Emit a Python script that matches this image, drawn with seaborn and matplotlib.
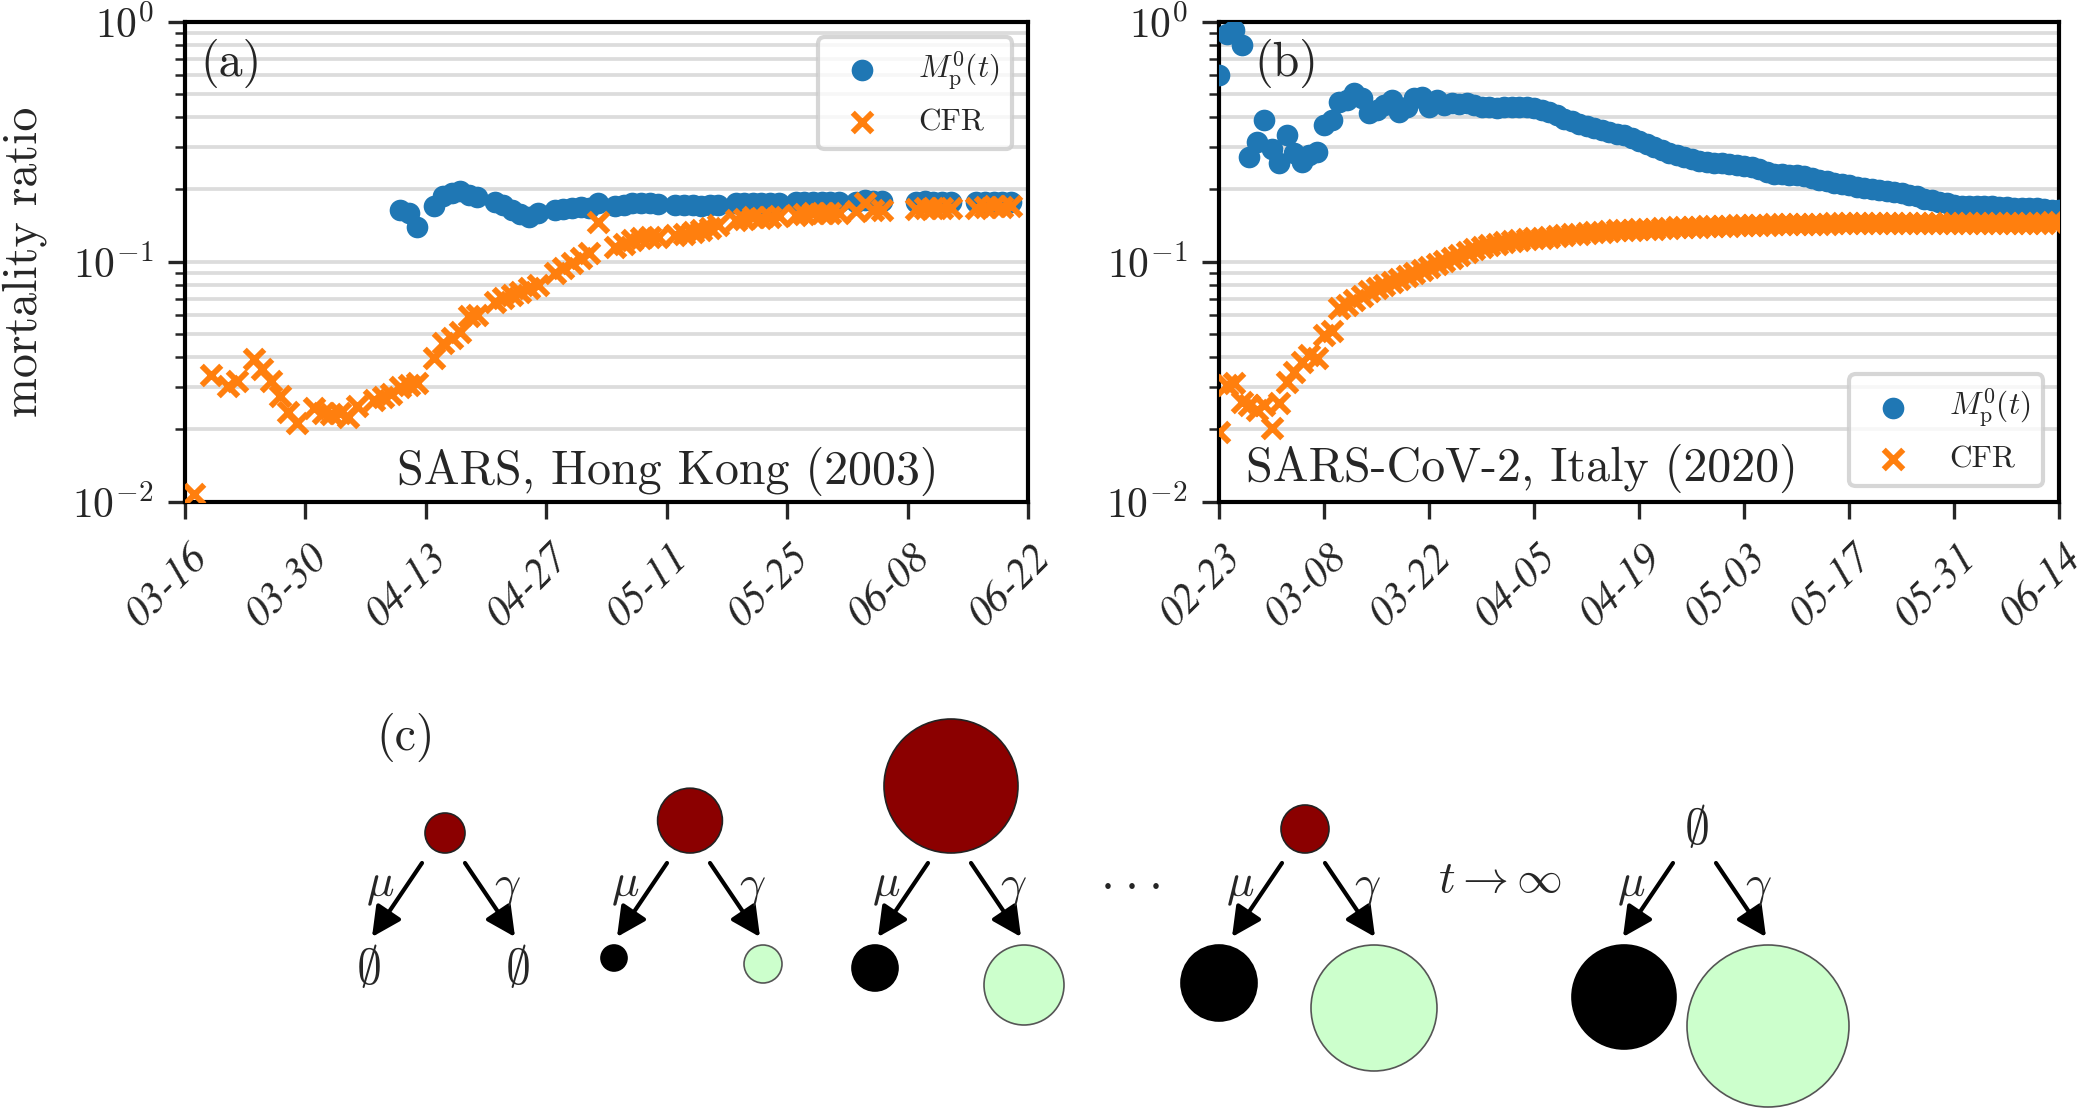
import numpy as np
import pandas as pd
import matplotlib
matplotlib.use("Agg")
import matplotlib.pyplot as plt
import matplotlib.transforms as mtransforms
import seaborn as sns
from matplotlib.patches import Circle, FancyArrowPatch
from matplotlib.ticker import LogLocator, NullFormatter

# ---------------- data ----------------
sars_start = "2003-03-16"
sars_end = "2003-06-22"
sars_ticks = ["03-16", "03-30", "04-13", "04-27", "05-11", "05-25", "06-08", "06-22"]

sars_cfr_day = [1, 3, 5, 6, 8, 9, 10, 11, 12, 13, 15, 16, 17, 18, 19, 20, 22, 23, 24, 25,
                26, 27, 29, 30, 31, 32, 33, 34, 36, 37, 38, 39, 40, 41, 43, 44, 45, 46, 47, 48,
                50, 51, 52, 53, 54, 55, 57, 58, 59, 60, 61, 62, 64, 65, 66, 67, 68, 69, 71, 72,
                73, 74, 75, 76, 78, 79, 80, 81, 85, 86, 87, 88, 89, 92, 93, 94, 95, 96]
sars_cfr = [0.0108, 0.0337, 0.0303, 0.0319, 0.0392, 0.0356, 0.0318, 0.0276, 0.0237, 0.0213,
            0.0245, 0.0235, 0.0231, 0.0235, 0.0226, 0.0251, 0.0265, 0.0274, 0.0280, 0.0300,
            0.0306, 0.0313, 0.0396, 0.0457, 0.0479, 0.0508, 0.0594, 0.0601, 0.0682, 0.0704,
            0.0727, 0.0751, 0.0775, 0.0800, 0.0893, 0.0938, 0.0985, 0.1035, 0.1090, 0.147,
            0.1155, 0.119, 0.123, 0.125, 0.127, 0.127, 0.129, 0.131, 0.133, 0.1355,
            0.138, 0.1425, 0.149, 0.151, 0.153, 0.152, 0.154, 0.155, 0.157, 0.158,
            0.159, 0.159, 0.160, 0.160, 0.163, 0.175, 0.164, 0.165, 0.166, 0.167,
            0.167, 0.168, 0.167, 0.168, 0.169, 0.170, 0.169, 0.170]

sars_mp_day = [25, 26, 27, 29, 30, 31, 32, 33, 34, 36, 37, 38, 39, 40, 41, 43, 44, 45, 46, 47,
               48, 50, 51, 52, 53, 54, 55, 57, 58, 59, 60, 61, 62, 64, 65, 66, 67, 68, 69, 71,
               72, 73, 74, 75, 76, 78, 79, 80, 81, 85, 86, 87, 88, 89, 92, 93, 94, 95, 96]
sars_mp = [0.165, 0.160, 0.139, 0.171, 0.187, 0.194, 0.198, 0.190, 0.186, 0.178,
           0.172, 0.165, 0.158, 0.154, 0.160, 0.164, 0.166, 0.167, 0.169, 0.168,
           0.175, 0.170, 0.173, 0.175, 0.175, 0.175, 0.174, 0.172, 0.172, 0.172,
           0.171, 0.172, 0.173, 0.176, 0.175, 0.175, 0.175, 0.176, 0.175, 0.177,
           0.178, 0.177, 0.178, 0.178, 0.178, 0.178, 0.180, 0.179, 0.179, 0.178,
           0.179, 0.178, 0.178, 0.178, 0.177, 0.178, 0.178, 0.177, 0.177]

italy_start = "2020-02-23"
italy_end = "2020-06-14"
italy_ticks = ["02-23", "03-08", "03-22", "04-05", "04-19", "05-03", "05-17", "05-31", "06-14"]

italy_mp = [0.60, 0.89, 0.92, 0.80, 0.274, 0.316, 0.389, 0.296, 0.257, 0.337,
            0.283, 0.261, 0.278, 0.287, 0.371, 0.389, 0.464, 0.470, 0.503, 0.479,
            0.415, 0.430, 0.450, 0.472, 0.422, 0.440, 0.479, 0.487, 0.440, 0.472,
            0.450, 0.457, 0.455, 0.460, 0.450, 0.442, 0.440, 0.437, 0.440, 0.443,
            0.442, 0.440, 0.436, 0.430, 0.420, 0.408, 0.395, 0.385, 0.376, 0.368,
            0.360, 0.353, 0.347, 0.341, 0.336, 0.328, 0.318, 0.309, 0.300, 0.292,
            0.285, 0.278, 0.273, 0.268, 0.264, 0.261, 0.259, 0.258, 0.256, 0.253,
            0.250, 0.247, 0.244, 0.237, 0.232, 0.231, 0.230, 0.229, 0.227, 0.223,
            0.219, 0.216, 0.213, 0.210, 0.208, 0.205, 0.203, 0.201, 0.199, 0.197,
            0.195, 0.193, 0.190, 0.187, 0.183, 0.180, 0.177, 0.175, 0.173, 0.171,
            0.170, 0.170, 0.170, 0.170, 0.169, 0.169, 0.168, 0.168, 0.167, 0.167,
            0.166, 0.165, 0.164]
italy_cfr = [0.0196, 0.0306, 0.0312, 0.0261, 0.0253, 0.0241, 0.0253, 0.0202, 0.0258, 0.0316,
             0.0347, 0.0382, 0.0409, 0.0396, 0.0495, 0.0512, 0.0640, 0.0662, 0.0694, 0.0717,
             0.0752, 0.0776, 0.0800, 0.0826, 0.0850, 0.0875, 0.0900, 0.0922, 0.0950, 0.0980,
             0.1010, 0.1040, 0.1070, 0.1100, 0.1130, 0.1150, 0.1170, 0.1190, 0.1210, 0.1220,
             0.1230, 0.1240, 0.1250, 0.1260, 0.1270, 0.1280, 0.1290, 0.1300, 0.1310, 0.1320,
             0.1330, 0.1335, 0.1340, 0.1350, 0.1355, 0.1360, 0.1365, 0.1370, 0.1375, 0.1380,
             0.1385, 0.1390, 0.1393, 0.1396, 0.1400, 0.1403, 0.1406, 0.1410, 0.1413, 0.1416,
             0.1420, 0.1422, 0.1425, 0.1427, 0.1430, 0.1432, 0.1434, 0.1436, 0.1438, 0.1440,
             0.1441, 0.1442, 0.1443, 0.1444, 0.1445, 0.1446, 0.1447, 0.1448, 0.1449, 0.1450,
             0.1450, 0.1451, 0.1451, 0.1452, 0.1452, 0.1452, 0.1453, 0.1453, 0.1453, 0.1454,
             0.1454, 0.1454, 0.1454, 0.1455, 0.1455, 0.1455, 0.1455, 0.1456, 0.1456, 0.1456,
             0.1456, 0.1457, 0.1457]

# schematic (c): compartment sizes (relative units) per stage
infected_size = [1.0, 1.62, 3.35, 1.2, 0.0]
dead_size = [0.0, 0.65, 1.15, 1.9, 2.6]
recovered_size = [0.0, 0.95, 2.0, 3.15, 4.05]

# ---------------- style ----------------
sns.set_style("ticks")
plt.rcParams.update({
    "font.family": "serif",
    "font.serif": ["cmr10"],
    "mathtext.fontset": "cm",
    "axes.formatter.use_mathtext": True,
    "axes.unicode_minus": True,
    "axes.edgecolor": "black",
    "axes.linewidth": 1.0,
})

BLUE = "#1f77b4"
ORANGE = "#ff7f0e"

fig = plt.figure(figsize=(7, 3.7), dpi=300)
W, H = 2100.0, 1110.0
axA = fig.add_axes([185 / W, 1 - 501.7 / H, 843 / W, 480 / H])
axB = fig.add_axes([1219 / W, 1 - 501.7 / H, 840 / W, 480 / H])


def to_dates(start, days):
    return pd.Timestamp(start) + pd.to_timedelta(np.asarray(days), unit="D")


def style_axis(ax, start, end, tick_labels, year):
    ax.set_yscale("log")
    ax.set_ylim(1e-2, 1.0)
    ax.yaxis.set_major_locator(LogLocator(base=10, numticks=10))
    ax.yaxis.set_minor_locator(LogLocator(base=10, subs=np.arange(2, 10), numticks=10))
    ax.yaxis.set_minor_formatter(NullFormatter())
    ax.grid(True, which="both", axis="y", color="#dcdcdc", lw=0.9)
    ax.grid(False, axis="x")
    ax.set_axisbelow(True)
    ax.set_xlim(pd.Timestamp(start), pd.Timestamp(end))
    ticks = [pd.Timestamp(f"{year}-{t}") for t in tick_labels]
    ax.tick_params(axis="x", which="major", length=4, width=0.8, pad=6)
    ax.tick_params(axis="y", which="major", length=4, width=0.8, labelsize=10)
    ax.tick_params(axis="y", which="minor", length=2.4, width=0.6)
    ax.set_xticks(ticks)
    ax.set_xticklabels(tick_labels, rotation=45, ha="right", va="center",
                       rotation_mode="anchor", fontfamily="STIXGeneral",
                       fontstyle="italic", fontsize=10)
    for s in ax.spines.values():
        s.set_linewidth(1.0)
        s.set_color("black")
    ax.set_xlabel("")
    ax.set_ylabel("")


mp_label = r"$M_{\mathrm{p}}^{0}(t)$"
S_DOT, S_X = 27, 22

# panel (a)
sns.scatterplot(x=to_dates(sars_start, sars_mp_day), y=sars_mp, ax=axA, color=BLUE,
                marker="o", s=S_DOT, linewidth=0, label=mp_label, zorder=3)
sns.scatterplot(x=to_dates(sars_start, sars_cfr_day), y=sars_cfr, ax=axA, color=ORANGE,
                marker="x", s=S_X, linewidth=1.4, label="CFR", zorder=4)
style_axis(axA, sars_start, sars_end, sars_ticks, 2003)
axA.set_ylabel("mortality ratio", fontsize=11.5, labelpad=6)
axA.legend(loc="upper right", fontsize=7.5, framealpha=0.8)
axA.text(0.018, 0.965, "(a)", transform=axA.transAxes, ha="left", va="top", fontsize=11.5)
axA.text(0.894, 0.012, "SARS, Hong Kong (2003)", transform=axA.transAxes,
         ha="right", va="bottom", fontsize=11.5)

# panel (b)
italy_days = np.arange(len(italy_mp))
sns.scatterplot(x=to_dates(italy_start, italy_days), y=italy_mp, ax=axB, color=BLUE,
                marker="o", s=S_DOT, linewidth=0, label=mp_label, zorder=3)
sns.scatterplot(x=to_dates(italy_start, italy_days), y=italy_cfr, ax=axB, color=ORANGE,
                marker="x", s=S_X, linewidth=1.4, label="CFR", zorder=4)
style_axis(axB, italy_start, italy_end, italy_ticks, 2020)
axB.legend(loc="lower right", fontsize=7.5, framealpha=0.8)
axB.text(0.042, 0.965, "(b)", transform=axB.transAxes, ha="left", va="top", fontsize=11.5)
axB.text(0.032, 0.018, "SARS-CoV-2, Italy (2020)", transform=axB.transAxes,
         ha="left", va="bottom", fontsize=11.5)

# panel (c): schematic, drawn in full-size pixel units
axC = fig.add_axes([0, 0, 1, 555 / H])
axC.set_xlim(0, W)
axC.set_ylim(H, 555)
axC.axis("off")

unit = 20.0
top_x = [445, 690, 951, 1305, 1696]
dead_x = [368, 614, 875, 1219, 1624]
rec_x = [517, 763, 1024, 1374, 1768]
top_base = 853.0     # bottom of infected circles
bottom_top = 945.0   # top of dead / recovered circles
RED = "#8b0000"
GREEN = "#ccffcc"

for i in range(len(top_x)):
    cx = top_x[i]
    r = infected_size[i] * unit
    if r > 0:
        axC.add_patch(Circle((cx, top_base - r), r, fc=RED, ec="#222222", lw=0.4))
    else:
        axC.text(cx, 830, r"$\emptyset$", ha="center", va="center", fontsize=12)
    for (x0, x1, lab, dx) in [(cx - 23, cx - 73, r"$\mu$", -17), (cx + 20, cx + 70, r"$\gamma$", 17)]:
        axC.add_patch(FancyArrowPatch((x0, 863), (x1, 937), arrowstyle="-|>,head_length=0.4,head_width=0.2",
                                      mutation_scale=15, lw=1.0, color="black",
                                      shrinkA=0, shrinkB=0))
        axC.text((x0 + x1) / 2 + dx, 887, lab, ha="center", va="center", fontsize=11)
    rd = dead_size[i] * unit
    rr = recovered_size[i] * unit
    if rd > 0:
        axC.add_patch(Circle((dead_x[i], bottom_top + rd), rd, fc="black", ec="black", lw=0.4))
    else:
        axC.text(dead_x[i], 970, r"$\emptyset$", ha="center", va="center", fontsize=12)
    if rr > 0:
        axC.add_patch(Circle((rec_x[i], bottom_top + rr), rr, fc=GREEN, ec="#555555", lw=0.4))
    else:
        axC.text(rec_x[i], 970, r"$\emptyset$", ha="center", va="center", fontsize=12)

axC.text(406, 737, "(c)", ha="center", va="center", fontsize=11.5)
for dot_x in (1106, 1130, 1154):
    axC.text(dot_x, 884, r"$\cdot$", ha="center", va="center", fontsize=12)
axC.text(1500, 880, r"$t\rightarrow\infty$", ha="center", va="center", fontsize=11)

# shift rotated x tick labels (applied last so tick_params does not reset it)
offset = mtransforms.ScaledTranslation(4.0 / 72, -2.0 / 72, fig.dpi_scale_trans)
for ax in (axA, axB):
    for lab in ax.get_xticklabels():
        lab.set_transform(lab.get_transform() + offset)

fig.savefig("out.png", dpi=300, facecolor="white")
